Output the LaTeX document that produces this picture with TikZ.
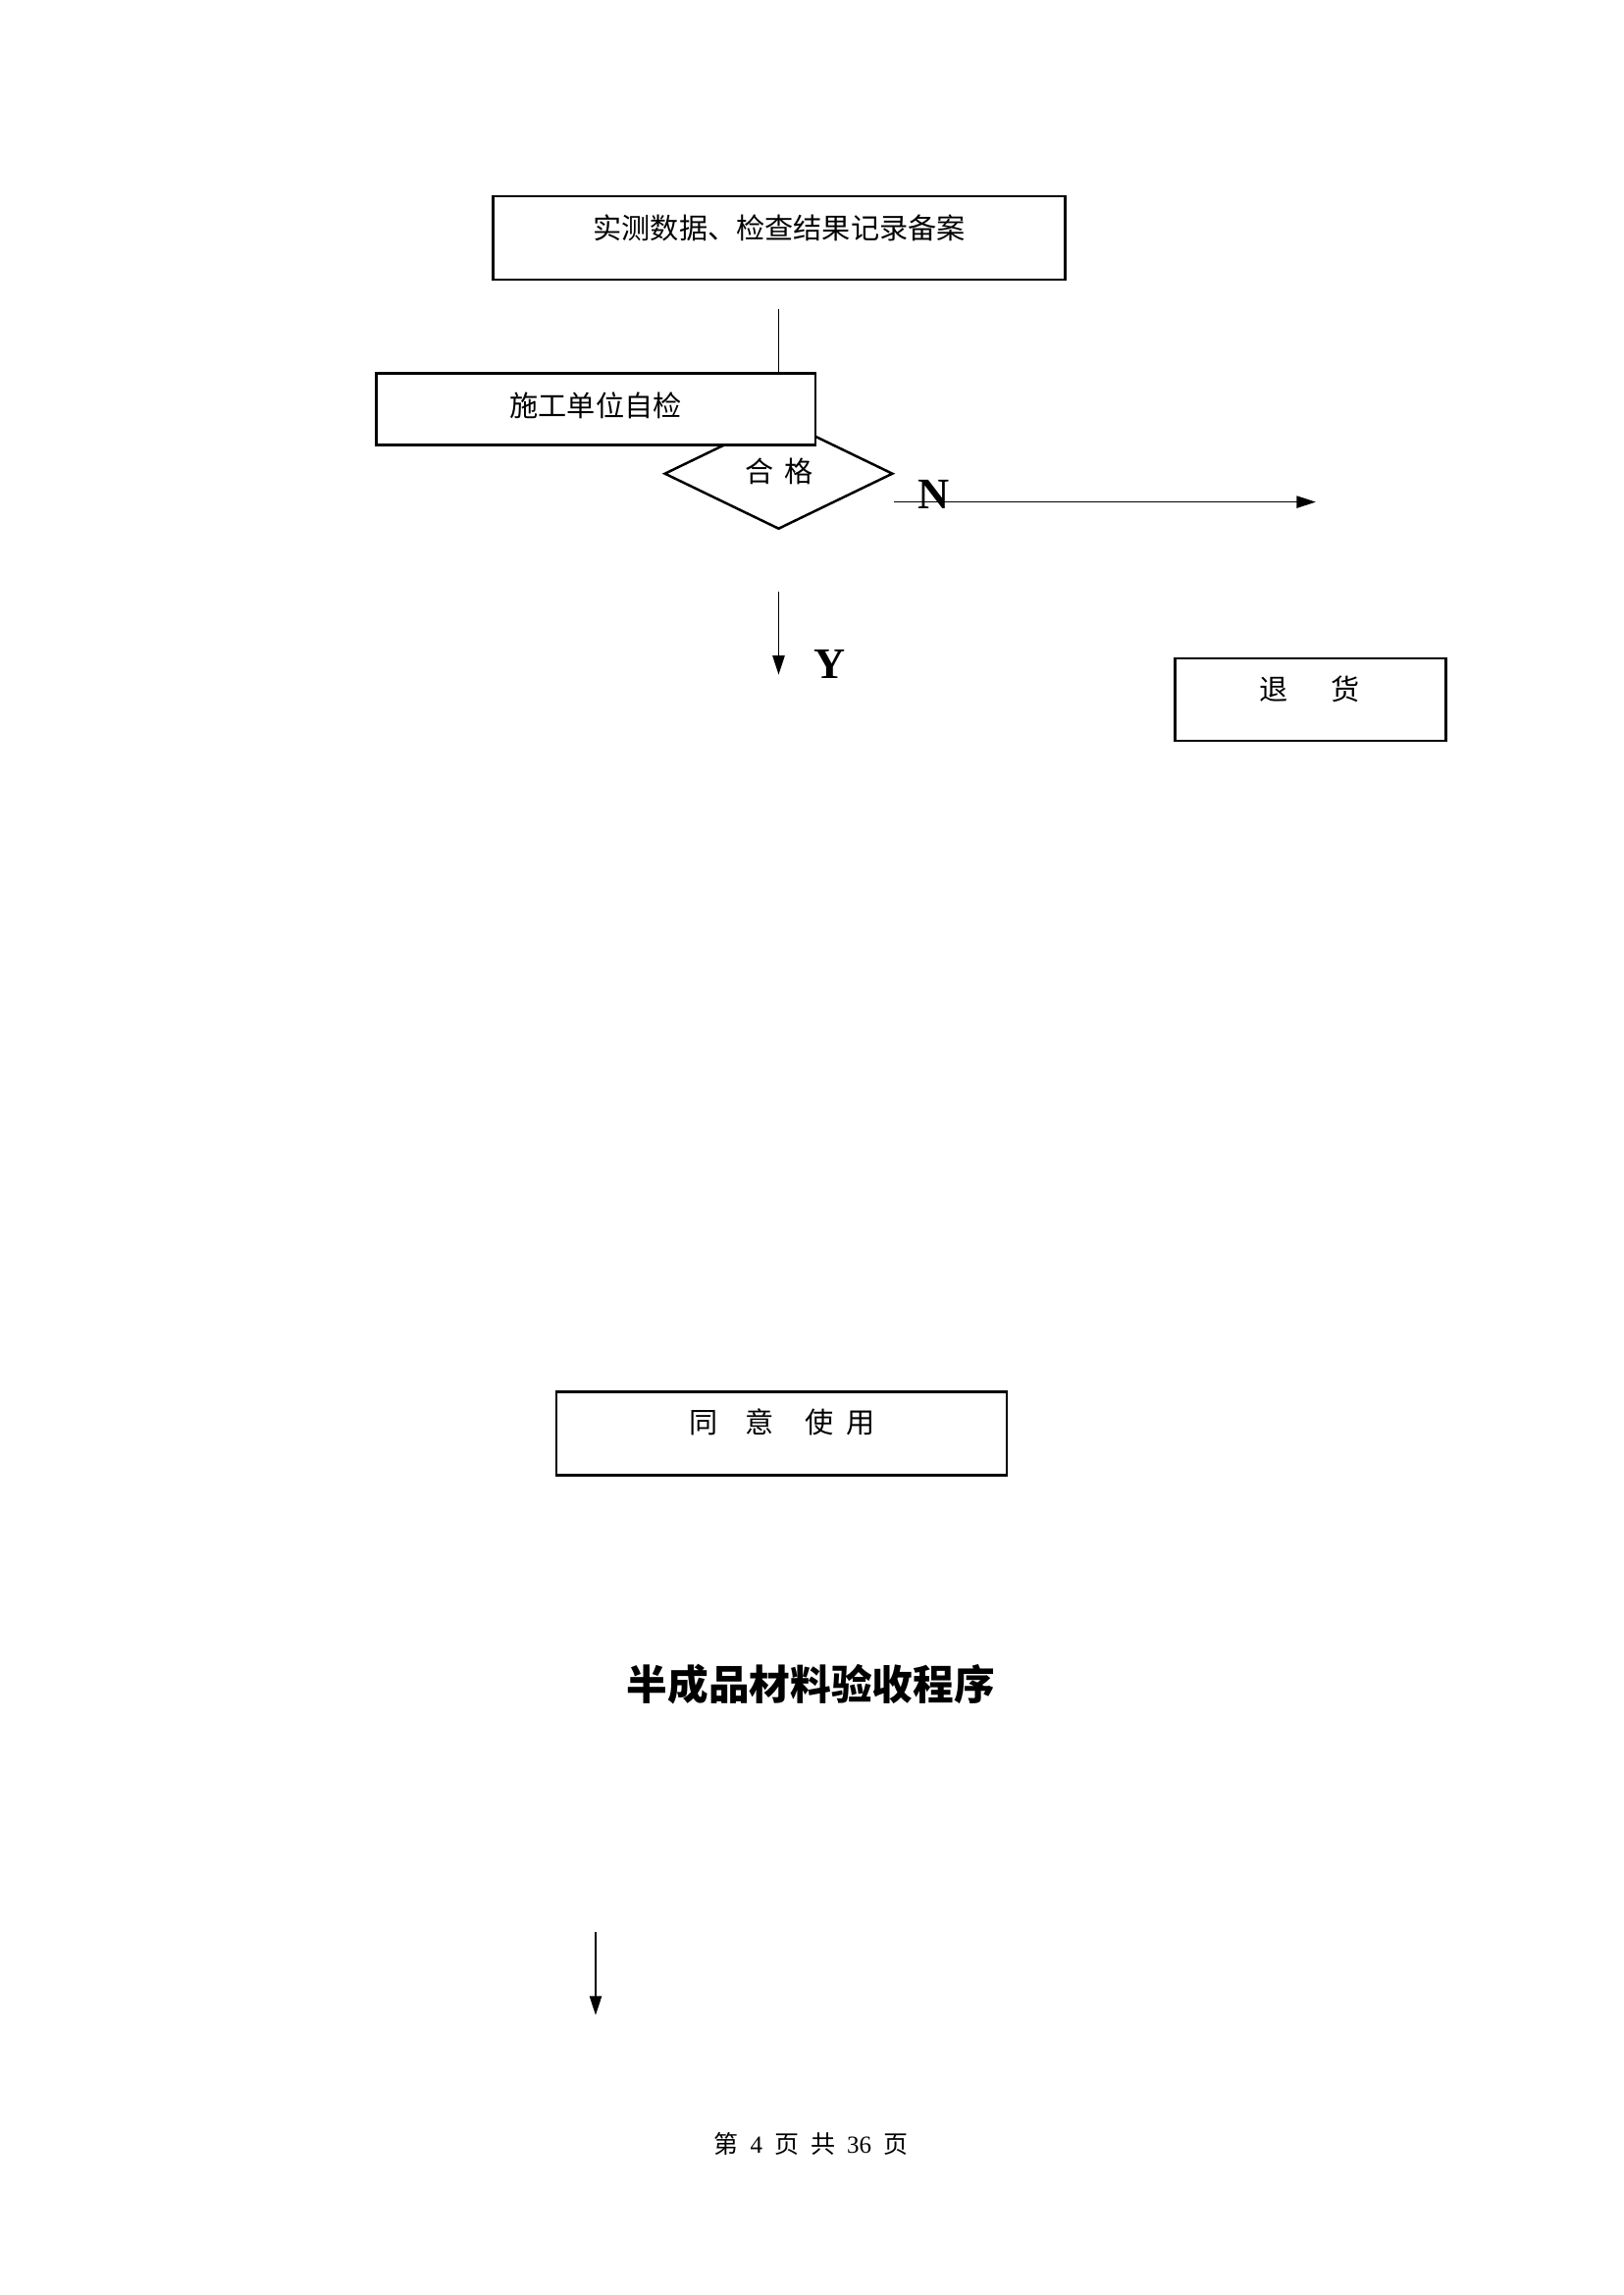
\documentclass[tikz,border=0pt]{standalone}
\usepackage{fontspec}
\setmainfont{Liberation Serif}
\newfontfamily\cjk{Noto Sans CJK SC}
\usetikzlibrary{shapes.geometric,arrows.meta}
\begin{document}
\begin{tikzpicture}[x=0.36pt,y=-0.36pt,
  box/.style={draw,line width=0.9pt,fill=white,inner sep=0pt},
  lbl/.style={font=\cjk\fontsize{10.5}{12}\selectfont,inner sep=0pt},
  conn/.style={line width=0.6pt},
  arr/.style={conn,-{Triangle[length=7pt,width=4.4pt]}},
  yn/.style={font=\bfseries\fontsize{16}{18}\selectfont,inner sep=0pt}]
\useasboundingbox (0,0) rectangle (1654,2339);

% top box
\node[box,minimum width=209.9pt,minimum height=30.6pt] (rec) at (794.2,242.4) {};
\node[lbl] (recT) at (794.2,232.7) {实测数据、检查结果记录备案};

% diamond (drawn before the self-check box, which covers its top)
\node[diamond,draw,line width=0.9pt,inner sep=0pt,minimum width=83.8pt,minimum height=40.7pt] (dia) at (793.5,482.7) {};
\node[lbl] (diaT) at (794,480) {合\hspace{0.35em}格};

% self check box
\node[box,minimum width=161.1pt,minimum height=26.3pt] (self) at (607,416.9) {};
\node[lbl] (selfT) at (607,413) {施工单位自检};

% return box
\node[box,minimum width=99.3pt,minimum height=30.1pt] (ret) at (1335.6,713) {};
\node[lbl] (retT) at (1335,702.5) {退\hspace{1.5em}货};

% agree box
\node[box,minimum width=165.3pt,minimum height=30.6pt] (use) at (796.5,1460.9) {};
\node[lbl] (useT) at (797,1449.8) {同\hspace{0.95em}意\hspace{1.1em}使\hspace{0.45em}用};

% connectors
\coordinate (l1s) at (793.5,314.7);
\draw[conn] (l1s) -- (l1s |- self.north);

\coordinate (nS) at (911.3,511.6);
\coordinate (nE) at (1340.9,511.6);
\draw[arr] (nS) -- (nE);
\node[yn] (N) at (951.6,504) {N};

\coordinate (yS) at (793.5,602.6);
\coordinate (yE) at (793.5,687.6);
\draw[arr] (yS) -- (yE);
\node[yn] (Y) at (845.7,677) {Y};

% title
\node[font=\cjk\bfseries\fontsize{15}{18}\selectfont,inner sep=0pt] (title) at (826.3,1716.7) {半成品材料验收程序};

% bottom arrow
\coordinate (bS) at (607,1968.8);
\coordinate (bE) at (607,2053.8);
\draw[arr] (bS) -- (bE);

% footer
\node[font=\fontsize{9}{11}\selectfont,inner sep=0pt] (foot) at (826.3,2185) {{\cjk 第}\hspace{0.48em}4\hspace{0.48em}{\cjk 页}\hspace{0.48em}{\cjk 共}\hspace{0.48em}36\hspace{0.48em}{\cjk 页}};
\end{tikzpicture}
\end{document}
